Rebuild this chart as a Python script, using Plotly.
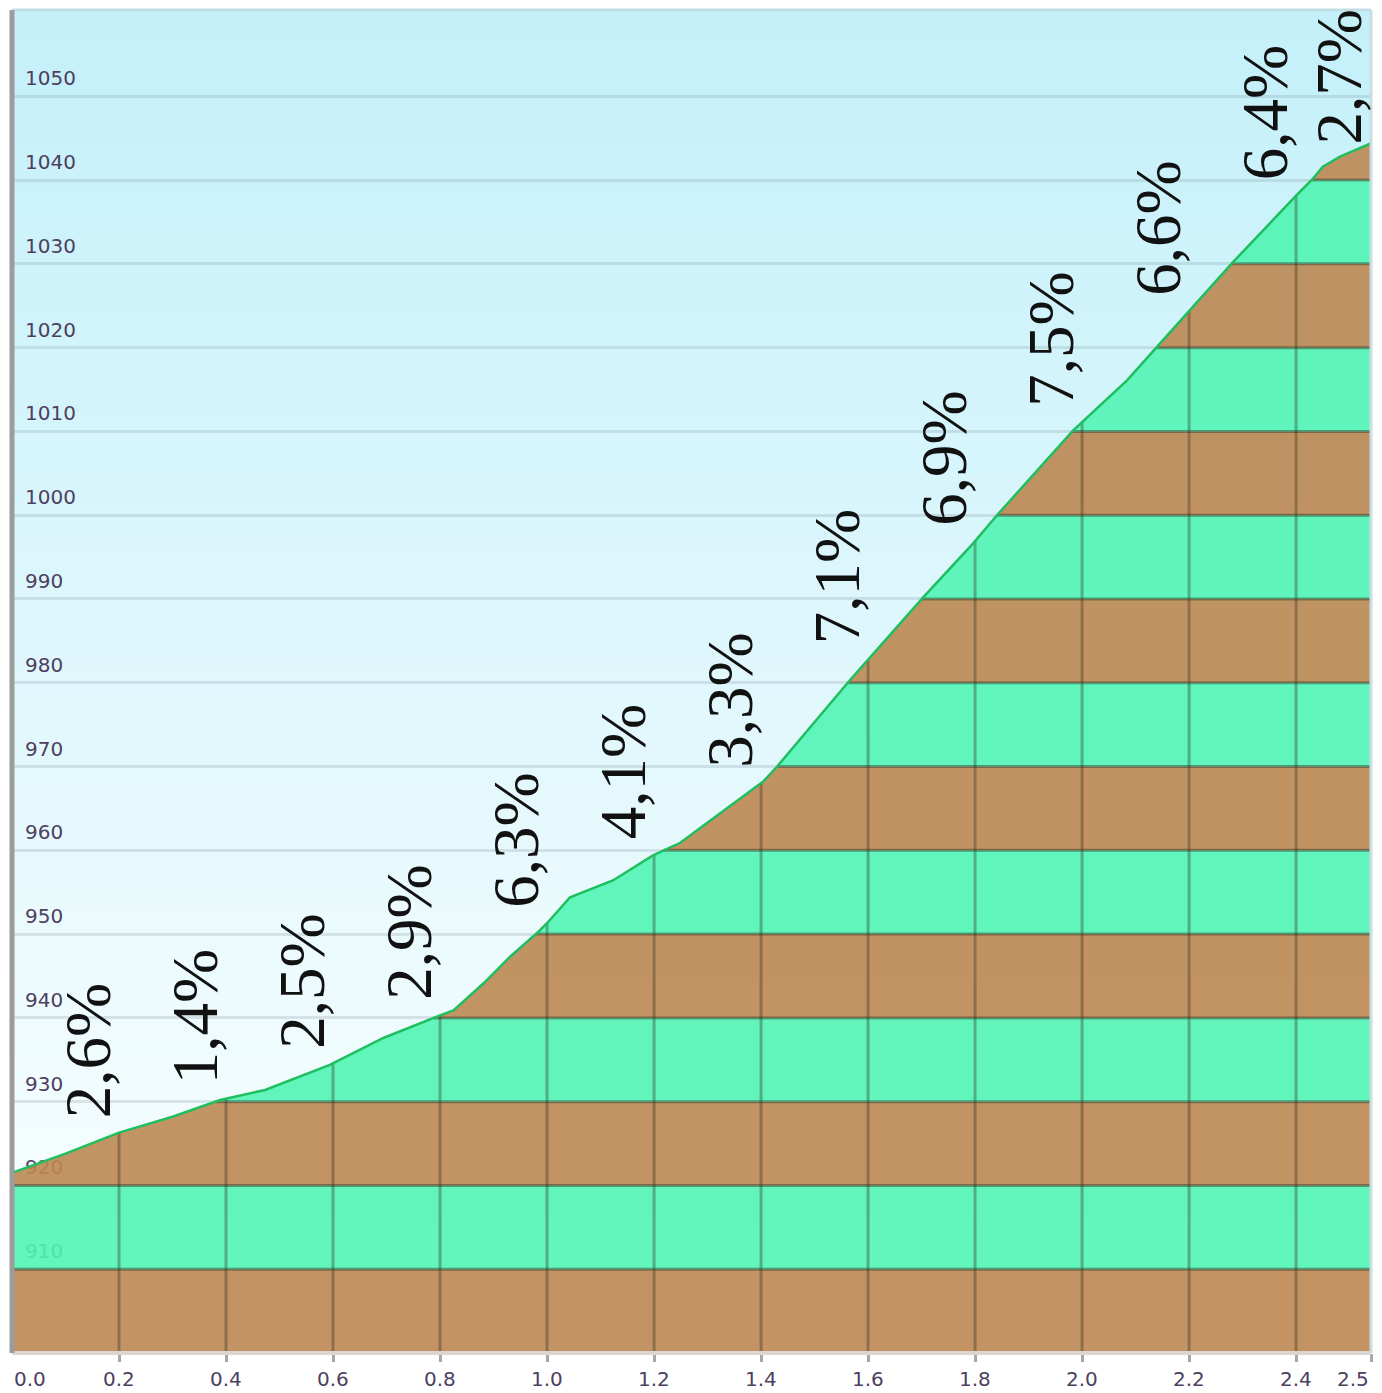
import numpy as np
import plotly.graph_objects as go

# ---------------- data ----------------
dist_km = [0.000, 0.100, 0.200, 0.300, 0.389, 0.432, 0.473, 0.594, 0.694, 0.800,
           0.825, 0.881, 0.931, 0.984, 1.000, 1.043, 1.093, 1.123, 1.198, 1.249,
           1.404, 1.430, 1.566, 1.703, 1.796, 1.841, 1.983, 2.084, 2.140, 2.202,
           2.282, 2.401, 2.432, 2.450, 2.482, 2.533, 2.540]
elev_m = [921.5, 923.8, 926.3, 928.2, 930.2, 930.8, 931.4, 934.4, 937.6, 940.3,
          940.9, 944.1, 947.3, 950.3, 951.3, 954.4, 955.6, 956.4, 959.4, 960.9,
          968.2, 970.0, 980.3, 990.2, 996.6, 1000.0, 1010.1, 1016.1, 1020.1, 1024.5,
          1030.2, 1038.2, 1040.2, 1041.6, 1042.8, 1044.2, 1044.4]

grade_labels = ["2,6%", "1,4%", "2,5%", "2,9%", "6,3%", "4,1%", "3,3%",
                "7,1%", "6,9%", "7,5%", "6,6%", "6,4%", "2,7%"]
grade_starts = [0.0, 0.2, 0.4, 0.6, 0.8, 1.0, 1.2, 1.4, 1.6, 1.8, 2.0, 2.2, 2.4]
grade_ends = [0.2, 0.4, 0.6, 0.8, 1.0, 1.2, 1.4, 1.6, 1.8, 2.0, 2.2, 2.4, 2.54]

x_tick_vals = [0.0, 0.2, 0.4, 0.6, 0.8, 1.0, 1.2, 1.4, 1.6, 1.8, 2.0, 2.2, 2.4, 2.54]
x_tick_text = ["0.0", "0.2", "0.4", "0.6", "0.8", "1.0", "1.2", "1.4", "1.6",
               "1.8", "2.0", "2.2", "2.4", "2.5"]
y_tick_vals = [910, 920, 930, 940, 950, 960, 970, 980, 990, 1000, 1010, 1020,
               1030, 1040, 1050]
band_edges = [900, 910, 920, 930, 940, 950, 960, 970, 980, 990, 1000, 1010,
              1020, 1030, 1040, 1050]

# ---------------- styling ----------------
Y_MIN, Y_MAX = 900, 1060.3
X_MIN, X_MAX = 0.0, 2.54
FIG_W, FIG_H = 1374, 1385          # page body adds an 8px margin
MARGIN = dict(l=4, r=11, t=2, b=40)
PLOT_H = FIG_H - MARGIN["t"] - MARGIN["b"]
PX_PER_M = PLOT_H / (Y_MAX - Y_MIN)

BROWN = "rgba(189,135,82,0.9)"
GREEN = "rgba(81,244,181,0.9)"
EDGE_COL = "rgba(45,55,35,0.45)"
VLINE_COL = "rgba(45,45,25,0.35)"
TICK_FONT = dict(family="DejaVu Sans", size=20, color="#4d4060")
GRADE_FONT = dict(family="Liberation Serif", size=65, color="#111111")

dist = np.array(dist_km)
elev = np.array(elev_m)

fig = go.Figure()

# sky gradient (background), drawn as overlapping stacked rectangles (no seams)
n_sky = 90
top_c = np.array([196, 240, 250])
bot_c = np.array([252, 255, 255])
for i in range(n_sky):
    y1 = 1 - i / n_sky
    t = (n_sky - i - 0.5) / n_sky
    c = bot_c + (top_c - bot_c) * t
    fig.add_shape(type="rect", xref="paper", yref="paper",
                  x0=0, x1=1, y0=0, y1=y1,
                  fillcolor="rgb(%d,%d,%d)" % tuple(np.round(c).astype(int)),
                  line_width=0, layer="below")

# striped terrain bands below the profile
edges = np.array(band_edges + [band_edges[-1] + 10], dtype=float)
inner = edges[(edges > elev.min()) & (edges < elev.max())]
xs = np.unique(np.concatenate([dist, np.interp(inner, elev, dist)]))
ys = np.interp(xs, dist, elev)
for k, lo in enumerate(band_edges):
    hi = lo + 10
    if ys.max() <= lo:
        continue
    top = np.clip(ys, lo, hi)
    px = np.concatenate([xs, xs[::-1]])
    py = np.concatenate([top, np.full(len(xs), lo)])
    fig.add_trace(go.Scatter(x=px, y=py, mode="lines", fill="toself",
                             fillcolor=BROWN if k % 2 == 0 else GREEN,
                             line=dict(width=0), hoverinfo="skip",
                             showlegend=False))

# band boundary lines (only under the profile)
bx, by = [], []
for L in band_edges[1:]:
    if L >= elev.max():
        continue
    x0 = float(np.interp(L, elev, dist))
    bx += [x0, X_MAX, None]
    by += [L, L, None]
fig.add_trace(go.Scatter(x=bx, y=by, mode="lines",
                         line=dict(color=EDGE_COL, width=3),
                         hoverinfo="skip", showlegend=False))

# vertical distance lines (only under the profile)
vx, vy = [], []
for xv in x_tick_vals[1:-1]:
    vx += [xv, xv, None]
    vy += [Y_MIN, float(np.interp(xv, dist, elev)), None]
fig.add_trace(go.Scatter(x=vx, y=vy, mode="lines",
                         line=dict(color=VLINE_COL, width=3),
                         hoverinfo="skip", showlegend=False))

# profile line
fig.add_trace(go.Scatter(x=dist, y=elev, mode="lines",
                         line=dict(color="#1fbf5f", width=2.5),
                         hoverinfo="skip", showlegend=False))

# gradient labels: bottom a little above the segment end, kept inside the top edge
max_bottom = Y_MAX - 136 / PX_PER_M
for lab, s, e in zip(grade_labels, grade_starts, grade_ends):
    xc = min((s + e) / 2 + 0.042, X_MAX - 0.06)
    yb = min(float(np.interp(e, dist, elev)) + 13 / PX_PER_M, max_bottom)
    fig.add_annotation(x=xc, y=yb, xref="x", yref="y",
                       text=lab, textangle=-90, showarrow=False,
                       xanchor="center", yanchor="bottom",
                       font=GRADE_FONT)

# x tick labels
for i, (v, t) in enumerate(zip(x_tick_vals, x_tick_text)):
    anchor = "left" if i == 0 else ("right" if i == len(x_tick_vals) - 1 else "center")
    fig.add_annotation(x=v, y=0, xref="x", yref="paper", text=t, showarrow=False,
                       xanchor=anchor, yanchor="top", yshift=-12, font=TICK_FONT)

# frame lines
fig.add_shape(type="line", xref="paper", yref="paper", x0=0, x1=1, y0=1, y1=1,
              line=dict(color="#c3dfe6", width=3), layer="above")
fig.add_shape(type="line", xref="paper", yref="paper", x0=1, x1=1, y0=0, y1=1,
              line=dict(color="#cadde2", width=3), layer="above")
fig.add_shape(type="line", xref="paper", yref="paper", x0=0, x1=1, y0=0, y1=0,
              line=dict(color="#dcd6d2", width=4), layer="above")
fig.add_shape(type="line", xref="paper", yref="paper", x0=0, x1=0, y0=0, y1=1,
              line=dict(color="#9c9c9c", width=5), layer="above")

fig.update_layout(
    width=FIG_W, height=FIG_H,
    margin=MARGIN,
    paper_bgcolor="white", plot_bgcolor="white",
    showlegend=False,
    xaxis=dict(range=[X_MIN, X_MAX], showgrid=False, zeroline=False,
               tickvals=x_tick_vals, showticklabels=False,
               ticks="outside", ticklen=8, tickwidth=3, tickcolor="#a8a8a8",
               showline=False, layer="above traces", fixedrange=True),
    yaxis=dict(range=[Y_MIN, Y_MAX], tickvals=y_tick_vals,
               ticktext=[str(v) for v in y_tick_vals],
               showgrid=True, gridcolor="rgba(110,130,140,0.2)", gridwidth=3,
               zeroline=False, showline=False, ticks="",
               ticklabelposition="inside top", ticklabelstandoff=10,
               ticklabelshift=-4,
               tickfont=TICK_FONT, layer="below traces", fixedrange=True),
)

fig.write_html("out.html")
